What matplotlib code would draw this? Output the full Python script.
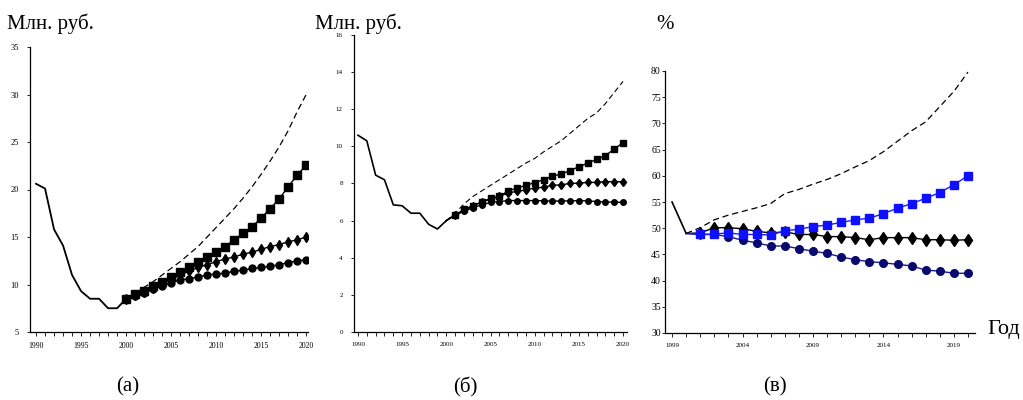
import numpy as np
from matplotlib import pyplot as plt
from matplotlib.ticker import MultipleLocator

plt.rcParams['font.family'] = ['Liberation Serif', 'DejaVu Serif']

# (a) Млн. руб.
years_a_hist = list(range(1990, 2001))
hist_a = [20.6, 20.1, 15.8, 14.1, 11.0, 9.3, 8.5, 8.5, 7.5, 7.5, 8.5]
years_fc = list(range(2000, 2021))
sq_a = [8.5, 9.0, 9.3, 9.8, 10.3, 10.8, 11.3, 11.8, 12.4, 12.9, 13.4,
        14.0, 14.7, 15.4, 16.1, 17.0, 18.0, 19.0, 20.3, 21.5, 22.6]
di_a = [8.5, 8.9, 9.2, 9.6, 10.1, 10.5, 11.0, 11.4, 11.8, 12.1, 12.4,
        12.7, 12.9, 13.2, 13.4, 13.7, 14.0, 14.2, 14.5, 14.7, 15.0]
ci_a = [8.5, 8.8, 9.1, 9.5, 9.8, 10.2, 10.5, 10.6, 10.8, 11.0, 11.1,
        11.2, 11.4, 11.5, 11.7, 11.8, 11.9, 12.1, 12.3, 12.5, 12.6]
da_a = [8.5, 9.1, 9.7, 10.3, 11.0, 11.7, 12.4, 13.2, 14.0, 15.0, 16.0,
        17.0, 18.0, 19.1, 20.3, 21.6, 23.0, 24.5, 26.2, 28.2, 30.0]

# (б) Млн. руб.
years_b_hist = list(range(1990, 2001))
hist_b = [10.6, 10.3, 8.45, 8.2, 6.85, 6.8, 6.4, 6.4, 5.8, 5.55, 6.0]
sq_b = [6.0, 6.3, 6.6, 6.8, 7.0, 7.2, 7.3, 7.6, 7.75, 7.9, 8.05,
        8.2, 8.4, 8.5, 8.7, 8.9, 9.1, 9.3, 9.5, 9.85, 10.2]
di_b = [6.0, 6.3, 6.55, 6.8, 7.0, 7.15, 7.3, 7.5, 7.57, 7.66, 7.75,
        7.8, 7.9, 7.93, 8.0, 8.02, 8.06, 8.06, 8.1, 8.1, 8.1]
ci_b = [6.0, 6.3, 6.5, 6.7, 6.85, 6.98, 7.03, 7.08, 7.08, 7.08, 7.08,
        7.07, 7.05, 7.06, 7.06, 7.08, 7.06, 7.03, 7.0, 7.0, 6.98]
da_b = [6.0, 6.4, 6.9, 7.3, 7.6, 7.9, 8.2, 8.5, 8.8, 9.1, 9.35,
        9.7, 10.0, 10.3, 10.7, 11.1, 11.5, 11.8, 12.3, 12.9, 13.5]

# (в) %
years_c_hist = [1999, 2000]
hist_c = [55.0, 49.0]
sq_c = [49.0, 48.8, 48.9, 49.1, 48.8, 48.8, 48.7, 49.5, 49.8, 50.3, 50.6,
        51.1, 51.6, 51.9, 52.8, 53.8, 54.7, 55.7, 56.8, 58.3, 60.0]
di_c = [49.0, 49.1, 50.1, 50.1, 49.9, 49.4, 49.1, 49.3, 48.8, 48.8, 48.4,
        48.4, 48.2, 47.8, 48.2, 48.2, 48.2, 47.8, 47.8, 47.7, 47.8]
ci_c = [49.0, 48.8, 48.8, 48.4, 47.7, 47.2, 46.6, 46.6, 46.1, 45.6, 45.2,
        44.5, 44.0, 43.6, 43.4, 43.1, 42.8, 42.0, 41.8, 41.4, 41.4]
da_c = [49.0, 50.1, 51.6, 52.5, 53.2, 53.9, 54.7, 56.6, 57.4, 58.4, 59.3,
        60.4, 61.7, 62.9, 64.6, 66.6, 68.6, 70.3, 73.2, 76.1, 79.8]


def style_axes(ax, xlim, ylim, xmajor, ystep, xfs, yfs):
    ax.set_xlim(*xlim)
    ax.set_ylim(*ylim)
    for s in ['top', 'right']:
        ax.spines[s].set_visible(False)
    for s in ['left', 'bottom']:
        ax.spines[s].set_linewidth(0.9)
    ax.set_xticks(xmajor)
    ax.xaxis.set_minor_locator(MultipleLocator(1))
    ax.yaxis.set_major_locator(MultipleLocator(ystep))
    ax.tick_params(axis='x', which='both', direction='out', length=3, width=0.6,
                   labelsize=xfs, pad=4)
    ax.tick_params(axis='y', direction='out', length=2, width=0.6, labelsize=yfs, pad=6)


fig = plt.figure(figsize=(10.23, 4.0), dpi=100)

# panel (a)
ax1 = fig.add_axes([30 / 1023, 68 / 400, 278 / 1023, 285 / 400])
ax1.plot(years_a_hist, hist_a, color='black', lw=1.3)
ax1.plot(years_fc, ci_a, color='black', lw=1, marker='o', ms=5)
ax1.plot(years_fc, di_a, color='black', lw=1, marker='d', ms=5)
ax1.plot(years_fc, sq_a, color='black', lw=1, marker='s', ms=5.5)
ax1.plot(years_fc, da_a, color='black', lw=0.9, ls=(0, (5, 3)))
style_axes(ax1, (1989.33, 2020.2), (5, 35), range(1990, 2021, 5), 5, 5.5, 6)

# panel (б)
ax2 = fig.add_axes([354 / 1023, 68 / 400, 273 / 1023, 297 / 400])
ax2.plot(years_b_hist, hist_b, color='black', lw=1.2)
ax2.plot(years_fc, ci_b, color='black', lw=1, marker='o', ms=4, markevery=range(1, 21))
ax2.plot(years_fc, di_b, color='black', lw=1, marker='d', ms=4.5, markevery=range(1, 21))
ax2.plot(years_fc, sq_b, color='black', lw=1, marker='s', ms=4.5, markevery=range(1, 21))
ax2.plot(years_fc, da_b, color='black', lw=0.8, ls=(0, (5, 3)))
style_axes(ax2, (1989.55, 2020.45), (0, 16), range(1990, 2021, 5), 2, 5, 5)

# panel (в)
ax3 = fig.add_axes([665 / 1023, 67 / 400, 310 / 1023, 262 / 400])
ax3.plot(years_c_hist, hist_c, color='black', lw=1.2)
ax3.plot(years_fc, ci_c, color='#1a1a8c', lw=1, marker='o', ms=5.5,
         mfc='#0a0a6e', mec='#0a0a6e', markevery=range(1, 21))
ax3.plot(years_fc, di_c, color='black', lw=1, marker='d', ms=6, markevery=range(1, 21))
ax3.plot(years_fc, sq_c, color='#1a1aff', lw=1, marker='s', ms=6,
         mfc='#0f0fff', mec='#0f0fff', markevery=range(1, 21))
ax3.plot(years_fc, da_c, color='black', lw=0.9, ls=(0, (5, 3)))
style_axes(ax3, (1998.5, 2020.5), (30, 80), range(1999, 2020, 5), 5, 5, 7)
ax3.tick_params(axis='y', pad=1)

# titles and labels
fig.text(7 / 1023, 1 - 29 / 400, 'Млн. руб.', fontsize=15, ha='left', va='baseline')
fig.text(315 / 1023, 1 - 29 / 400, 'Млн. руб.', fontsize=15, ha='left', va='baseline')
fig.text(665 / 1023, 1 - 29 / 400, '%', fontsize=15, ha='center', va='baseline')
fig.text(1020 / 1023, 1 - 334 / 400, 'Год', fontsize=16, ha='right', va='baseline')
fig.text(128 / 1023, 1 - 387 / 400, '(а)', fontsize=15, ha='center', va='center')
fig.text(465 / 1023, 1 - 387 / 400, '(б)', fontsize=15, ha='center', va='center')
fig.text(775 / 1023, 1 - 387 / 400, '(в)', fontsize=15, ha='center', va='center')

fig.savefig('out.png', dpi=100, facecolor='white')
